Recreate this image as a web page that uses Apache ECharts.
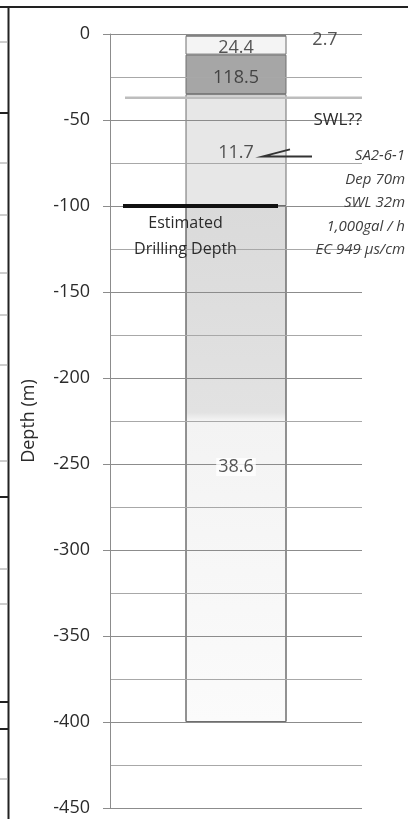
<!DOCTYPE html>
<html>
<head>
<meta charset="utf-8">
<script src="https://cdn.jsdelivr.net/npm/echarts@6/dist/echarts.min.js"></script>
<style>
  html, body { margin: 0; padding: 0; background: #fff; }
  #chart { width: 408px; height: 819px; }
</style>
</head>
<body>
<div id="chart"></div>
<script>
// Layered earth model: depth (m, negative downward) and resistivity of each layer
const layerTop = [0, -1, -12, -35, -100];
const layerBottom = [-1, -12, -35, -100, -400];
const resistivity = [2.7, 24.4, 118.5, 11.7, 38.6];

// Depth axis tick labels
const depthTicks = [0, -50, -100, -150, -200, -250, -300, -350, -400, -450];

// Annotations
const drillDepth = -100;
const drillLabel = 'Estimated\nDrilling Depth';
const swlDepth = -37;
const swlLabel = 'SWL??';
const swlLabelDepth = -50;
const wellDepth = -70;
const wellNote = ['SA2-6-1', 'Dep 70m', 'SWL 32m', '1,000gal / h', 'EC 949 µs/cm'];

const FONT = 'Open Sans';
const TEXT = '#2b2b2b';

const layerFill = [
  '#4d4d4d',
  '#f4f4f4',
  '#a6a6a6',
  '#e7e7e7',
  {
    type: 'linear', x: 0, y: 0, x2: 0, y2: 1,
    colorStops: [
      { offset: 0, color: '#dadada' },
      { offset: 0.40, color: '#e2e2e2' },
      { offset: 0.415, color: '#f3f3f3' },
      { offset: 1, color: '#fbfbfb' }
    ]
  }
];

const chart = echarts.init(document.getElementById('chart'), null, { renderer: 'canvas' });

const barSeries = layerTop.map((top, i) => ({
  type: 'bar',
  name: 'layer' + i,
  stack: 'log',
  barWidth: 101,
  z: 2,
  data: [layerBottom[i] - top],
  itemStyle: { color: layerFill[i], borderColor: '#6e6e6e', borderWidth: 1 },
  emphasis: { disabled: true },
  silent: true
}));

// Value labels placed at each layer's mid-depth, drawn above the grid lines
const labelData = layerTop.map((top, i) => {
  const d = {
    value: [0, (top + layerBottom[i]) / 2],
    label: { formatter: String(resistivity[i]) }
  };
  if (i === 0) {
    d.label.offset = [89, 5];
  }
  if (i === 4) {
    d.label.backgroundColor = '#ffffff';
    d.label.padding = [0, 2];
  }
  return d;
});

chart.setOption({
  animation: false,
  backgroundColor: '#ffffff',
  grid: { left: 110, right: 46, top: 34, bottom: 11 },
  xAxis: {
    type: 'category',
    data: ['log'],
    show: false
  },
  yAxis: {
    type: 'value',
    min: Math.min(...depthTicks),
    max: Math.max(...depthTicks),
    interval: depthTicks[0] - depthTicks[1],
    z: 3,
    name: 'Depth (m)',
    nameLocation: 'middle',
    nameGap: 72,
    nameTextStyle: { fontFamily: FONT, fontSize: 18, color: TEXT },
    axisLine: { show: true, lineStyle: { color: '#8c8c8c', width: 1 } },
    axisTick: { show: true, length: 7, lineStyle: { color: '#8c8c8c' } },
    axisLabel: { margin: 20, fontFamily: FONT, fontSize: 18, color: TEXT },
    splitLine: { show: true, lineStyle: { color: '#8c8c8c', width: 1 } },
    minorTick: { show: false, splitNumber: 2 },
    minorSplitLine: { show: true, lineStyle: { color: '#a8a8a8', width: 1 } }
  },
  series: barSeries.concat([{
    type: 'scatter',
    z: 10,
    symbolSize: 0,
    silent: true,
    data: labelData,
    label: {
      show: true,
      position: 'inside',
      offset: [0, 3],
      fontFamily: FONT,
      fontSize: 18,
      color: TEXT
    }
  }])
});

// Overlay annotations positioned through the axis scales
function py(depth) { return chart.convertToPixel({ yAxisIndex: 0 }, depth); }
const barCx = chart.convertToPixel({ xAxisIndex: 0 }, 0);
const gridLeft = 110;
const gridRight = 408 - 46;
const barLeft = barCx - 50.5;

const yDrill = py(drillDepth);
const ySwl = py(swlDepth);
const yWell = py(wellDepth) + 2;

// Decorative frame of the neighbouring table
const tableRuleY = [42, 113, 163, 215, 273, 315, 365, 461, 497, 569, 604, 702, 729, 779];
const tableRuleBold = [113, 497, 702, 729];

const graphics = [
  { type: 'line', shape: { x1: 0, y1: 7, x2: 408, y2: 7 }, style: { stroke: '#222', lineWidth: 2 } },
  { type: 'line', shape: { x1: 8.5, y1: 7, x2: 8.5, y2: 819 }, style: { stroke: '#222', lineWidth: 2 } },
  // Static water level line
  { type: 'line', z: 20, shape: { x1: gridLeft + 15, y1: ySwl, x2: gridRight, y2: ySwl }, style: { stroke: '#bdbdbd', lineWidth: 2.5 } },
  { type: 'text', z: 20, style: { text: swlLabel, x: gridRight, y: py(swlLabelDepth), align: 'right', verticalAlign: 'middle', font: '17px "' + FONT + '"', fill: TEXT } },
  // Estimated drilling depth
  { type: 'line', z: 20, shape: { x1: gridLeft + 13, y1: yDrill, x2: barCx + 42, y2: yDrill }, style: { stroke: '#111', lineWidth: 4 } },
  { type: 'text', z: 20, style: { text: drillLabel, x: barLeft, y: yDrill + 4, align: 'center', verticalAlign: 'top', lineHeight: 26, font: '16px "' + FONT + '"', fill: TEXT } },
  // Pointer to the well record
  { type: 'polyline', z: 20, shape: { points: [[barCx + 54, yWell - 7], [barCx + 27, yWell], [barCx + 76, yWell]] }, style: { stroke: '#333', lineWidth: 2, fill: null } },
  { type: 'text', z: 20, style: { text: wellNote.join('\n'), x: 405, y: yWell - 12, align: 'right', verticalAlign: 'top', lineHeight: 23.5, font: 'italic 15px "' + FONT + '"', fill: '#3e3e3e' } }
];
tableRuleY.forEach(y => {
  const bold = tableRuleBold.indexOf(y) >= 0;
  graphics.push({ type: 'line', shape: { x1: 0, y1: y, x2: 8, y2: y }, style: { stroke: bold ? '#222' : '#9a9a9a', lineWidth: bold ? 2 : 1 } });
});

chart.setOption({ graphic: graphics });
</script>
</body>
</html>
